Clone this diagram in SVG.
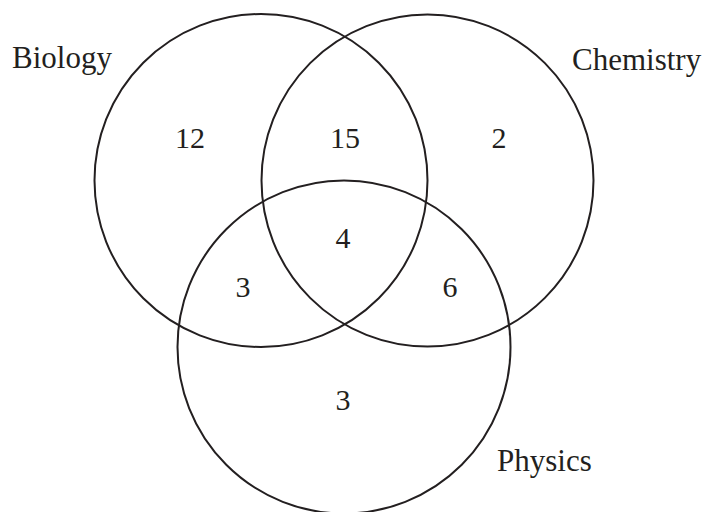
<svg xmlns="http://www.w3.org/2000/svg" width="706" height="512" viewBox="0 0 706 512">
<style>
.c{fill:none;stroke:#231f20;stroke-width:2}
.t{font-family:"Liberation Serif","Times New Roman",serif;fill:#231f20}
.n{font-size:30px;text-anchor:middle}
.l{font-size:31px}
</style>
<rect width="706" height="512" fill="#fff"/>
<g id="biology"><circle class="c" cx="261" cy="180.5" r="166.5"/><text class="t l" x="12" y="68">Biology</text></g>
<g id="chemistry"><circle class="c" cx="427.5" cy="180.5" r="166"/><text class="t l" x="572" y="70">Chemistry</text></g>
<g id="physics"><circle class="c" cx="344" cy="347" r="166.5"/><text class="t l" x="497" y="471">Physics</text></g>
<g id="counts">
<text class="t n" x="190" y="148">12</text>
<text class="t n" x="345" y="148">15</text>
<text class="t n" x="499" y="148">2</text>
<text class="t n" x="343" y="248">4</text>
<text class="t n" x="243" y="297">3</text>
<text class="t n" x="450" y="297">6</text>
<text class="t n" x="343" y="410">3</text>
</g>
</svg>
